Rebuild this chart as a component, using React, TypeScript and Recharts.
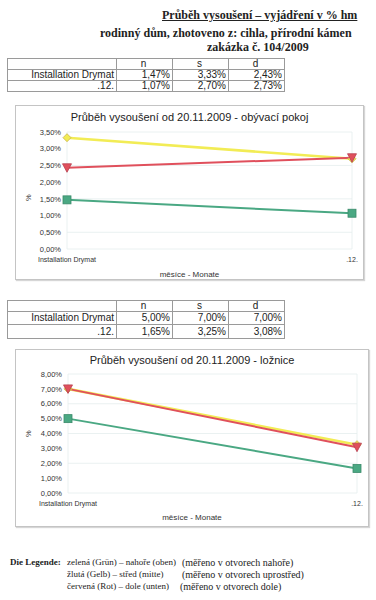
import React from 'react';
import { LineChart, Line, XAxis, YAxis, CartesianGrid } from 'recharts';

const categories = ['Installation Drymat', '.12.'];
const livingN = [1.47, 1.07];
const livingS = [3.33, 2.7];
const livingD = [2.43, 2.73];
const bedroomN = [5.0, 1.65];
const bedroomS = [7.0, 3.25];
const bedroomD = [7.0, 3.08];
const livingTicks = [0, 0.5, 1, 1.5, 2, 2.5, 3, 3.5];
const bedroomTicks = [0, 1, 2, 3, 4, 5, 6, 7, 8];
const seriesKeys = ['n', 's', 'd'];

const GREEN = '#4aa883';
const YELLOW = '#f2ec55';
const RED = '#e0505c';
const SANS = '"Liberation Sans", Arial, sans-serif';
const SERIF = '"Liberation Serif", "Times New Roman", serif';

const fmt = (v: number) => v.toFixed(2).replace('.', ',') + '%';

const build = (n: number[], s: number[], d: number[]) =>
  categories.map((c, i) => ({ cat: c, n: n[i], s: s[i], d: d[i] }));

const SquareDot = (p: any) => {
  const { cx, cy } = p;
  if (cx == null || cy == null) return null;
  return <rect key={`sq-${cx}`} x={cx - 4} y={cy - 4} width={8} height={8} fill={GREEN} stroke="#3a8a6a" strokeWidth={0.8} />;
};
const DiamondDot = (p: any) => {
  const { cx, cy } = p;
  if (cx == null || cy == null) return null;
  return (
    <polygon key={`dm-${cx}`} points={`${cx},${cy - 4} ${cx + 4},${cy} ${cx},${cy + 4} ${cx - 4},${cy}`} fill={YELLOW} stroke="#c9b44a" strokeWidth={0.8} />
  );
};
const TriDot = (p: any) => {
  const { cx, cy } = p;
  if (cx == null || cy == null) return null;
  return (
    <polygon key={`tr-${cx}`} points={`${cx - 4.5},${cy - 4} ${cx + 4.5},${cy - 4} ${cx},${cy + 4.5}`} fill={RED} stroke="#b84050" strokeWidth={0.8} />
  );
};

const Table = ({ top, rows, heights }: { top: number; rows: number[][]; heights: number[] }) => {
  const colW = [109, 56, 56, 56];
  const cell: React.CSSProperties = {
    border: '1px solid #9a9a9a',
    padding: '0 2px 0 0',
    fontFamily: SANS,
    fontSize: 10,
    color: '#222',
    lineHeight: 1,
    whiteSpace: 'nowrap',
  };
  return (
    <table
      style={{ position: 'absolute', left: 7, top, borderCollapse: 'collapse', tableLayout: 'fixed', width: 277 }}
    >
      <colgroup>
        {colW.map((w, i) => (
          <col key={i} style={{ width: w }} />
        ))}
      </colgroup>
      <tbody>
        <tr style={{ height: heights[0] }}>
          <td style={cell}></td>
          {seriesKeys.map((k) => (
            <td key={k} style={{ ...cell, textAlign: 'center' }}>{k}</td>
          ))}
        </tr>
        {categories.map((c, ri) => (
          <tr key={c} style={{ height: heights[ri + 1] }}>
            <td style={{ ...cell, textAlign: 'right' }}>{c}</td>
            {rows[ri].map((v, i) => (
              <td key={i} style={{ ...cell, textAlign: 'right' }}>{fmt(v)}</td>
            ))}
          </tr>
        ))}
      </tbody>
    </table>
  );
};

const ChartBox = ({
  left, top, width, height, title, titleTop, data, ticks, domainMax, margin, xAxisH, labelTop, pctLeft, pctTop,
}: any) => (
  <div
    style={{
      position: 'absolute', left, top, width, height, border: '1px solid #c4c4c4', boxSizing: 'border-box',
      boxShadow: '1px 1px 1px #d6d6d6', background: '#fff',
    }}
  >
    <div style={{ position: 'absolute', left: 0, width: width - 2, top: titleTop, textAlign: 'center', fontFamily: SANS, fontSize: 11, color: '#222', lineHeight: 1 }}>
      {title}
    </div>
    <LineChart width={width - 2} height={height - 2} data={data} margin={margin}>
      <CartesianGrid stroke="#e4eeee" strokeWidth={0.8} vertical={true} />
      <XAxis
        dataKey="cat"
        height={xAxisH}
        axisLine={false}
        tickLine={false}
        tick={{ fontSize: 7, fill: '#333', fontFamily: SANS }}
        interval={0}
      />
      <YAxis
        width={40}
        domain={[0, domainMax]}
        ticks={ticks}
        axisLine={false}
        tickLine={false}
        tickMargin={0}
        tickFormatter={fmt}
        tick={{ fontSize: 7.5, fill: '#333', fontFamily: SANS }}
      />
      <Line dataKey="n" stroke={GREEN} strokeWidth={2} dot={SquareDot} isAnimationActive={false} />
      <Line dataKey="s" stroke={YELLOW} strokeWidth={2.6} dot={DiamondDot} isAnimationActive={false} />
      <Line dataKey="d" stroke={RED} strokeWidth={2} dot={TriDot} isAnimationActive={false} />
    </LineChart>
    <div style={{ position: 'absolute', left: pctLeft, top: pctTop, transform: 'rotate(-90deg)', fontFamily: SANS, fontSize: 7.5, color: '#333', lineHeight: 1 }}>%</div>
    <div style={{ position: 'absolute', left: 0, width: width - 2, top: labelTop, textAlign: 'center', fontFamily: SANS, fontSize: 8, color: '#333', lineHeight: 1 }}>
      měsíce - Monate
    </div>
  </div>
);

export default function App() {
  const livingRows = [
    [livingN[0], livingS[0], livingD[0]],
    [livingN[1], livingS[1], livingD[1]],
  ];
  const bedroomRows = [
    [bedroomN[0], bedroomS[0], bedroomD[0]],
    [bedroomN[1], bedroomS[1], bedroomD[1]],
  ];
  const legendStyle: React.CSSProperties = { position: 'absolute', fontFamily: SERIF, fontSize: 9, color: '#222', lineHeight: 1, whiteSpace: 'nowrap' };
  const noteStyle: React.CSSProperties = { ...legendStyle, fontSize: 10 };
  return (
    <div style={{ position: 'absolute', left: 0, top: 0, width: 376, height: 600, background: '#fff', overflow: 'hidden' }}>
      <div style={{ position: 'absolute', left: 162, top: 9, fontFamily: SERIF, fontWeight: 'bold', fontSize: 12, textDecoration: 'underline', color: '#222', whiteSpace: 'nowrap', lineHeight: 1 }}>
        Průběh vysoušení – vyjádření v % hm
      </div>
      <div style={{ position: 'absolute', left: 100, top: 27, fontFamily: SERIF, fontWeight: 'bold', fontSize: 12, color: '#222', whiteSpace: 'nowrap', lineHeight: 1 }}>
        rodinný dům, zhotoveno z: cihla, přírodní kámen
      </div>
      <div style={{ position: 'absolute', left: 207, top: 40.5, fontFamily: SERIF, fontWeight: 'bold', fontSize: 12, color: '#222', whiteSpace: 'nowrap', lineHeight: 1 }}>
        zakázka č. 104/2009
      </div>
      <Table top={58} rows={livingRows} heights={[10, 11, 11]} />
      <ChartBox
        left={15} top={105} width={349} height={175}
        title="Průběh vysoušení od 20.11.2009 - obývací pokoj" titleTop={6}
        data={build(livingN, livingS, livingD)} ticks={livingTicks} domainMax={3.5}
        margin={{ top: 26, right: 11, bottom: 0, left: 11 }} xAxisH={30}
        labelTop={165} pctLeft={9} pctTop={88}
      />
      <Table top={300} rows={bedroomRows} heights={[11, 13, 14]} />
      <ChartBox
        left={15} top={349} width={354} height={178}
        title="Průběh vysoušení od 20.11.2009 - ložnice" titleTop={5}
        data={build(bedroomN, bedroomS, bedroomD)} ticks={bedroomTicks} domainMax={8}
        margin={{ top: 24, right: 11, bottom: 0, left: 12 }} xAxisH={33}
        labelTop={164} pctLeft={9} pctTop={80}
      />
      <div style={{ ...legendStyle, left: 10, top: 558, fontWeight: 'bold' }}>Die Legende:</div>
      <div style={{ ...legendStyle, left: 67, top: 558 }}>zelená (Grün) – nahoře (oben)</div>
      <div style={{ ...noteStyle, left: 182, top: 558 }}>(měřeno v otvorech nahoře)</div>
      <div style={{ ...legendStyle, left: 67, top: 570 }}>žlutá (Gelb) – střed (mitte)</div>
      <div style={{ ...noteStyle, left: 182, top: 570 }}>(měřeno v otvorech uprostřed)</div>
      <div style={{ ...legendStyle, left: 67, top: 582 }}>červená (Rot) – dole (unten)</div>
      <div style={{ ...noteStyle, left: 180, top: 582 }}>(měřeno v otvorech dole)</div>
    </div>
  );
}
